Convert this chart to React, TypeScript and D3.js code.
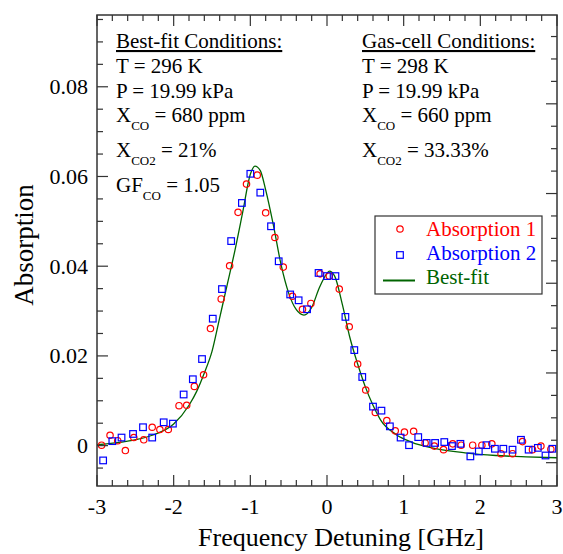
import React from "react";
import * as d3 from "d3";

// ---- data ----
const abs1X = [-2.94,-2.83,-2.73,-2.63,-2.52,-2.39,-2.28,-2.18,-2.07,-1.93,-1.83,-1.73,-1.61,-1.52,-1.38,-1.27,-1.16,-1.05,-0.91,-0.80,-0.68,-0.57,-0.45,-0.32,-0.21,-0.09,0.03,0.16,0.29,0.40,0.505,0.63,0.78,0.89,1.01,1.13,1.28,1.40,1.52,1.64,1.75,1.90,2.02,2.15,2.27,2.42,2.55,2.68,2.79,2.92];
const abs1Y = [0.0001,0.0023,0.0011,-0.0011,0.0018,0.0013,0.0041,0.0036,0.0036,0.0089,0.0090,0.0132,0.0158,0.0261,0.0327,0.0401,0.0520,0.0583,0.0603,0.0519,0.0464,0.0398,0.0333,0.0304,0.0317,0.0383,0.0378,0.0349,0.0265,0.0182,0.0124,0.0074,0.0056,0.0033,0.0030,0.0032,0.0006,-0.0001,-0.0009,0.0004,0.0001,0.0001,0.0001,0.0004,-0.0018,-0.0018,0.0009,-0.0009,-0.0001,-0.0008];

const abs2X = [-2.92,-2.80,-2.68,-2.53,-2.40,-2.28,-2.13,-2.01,-1.87,-1.75,-1.63,-1.49,-1.37,-1.25,-1.11,-1.00,-0.87,-0.73,-0.63,-0.48,-0.37,-0.26,-0.11,0.00,0.11,0.24,0.356,0.46,0.60,0.71,0.82,0.96,1.07,1.19,1.30,1.41,1.53,1.63,1.74,1.87,1.98,2.08,2.19,2.30,2.42,2.53,2.63,2.75,2.85,2.94];
const abs2Y = [-0.0033,0.0010,0.0018,0.0026,0.0041,0.0018,0.0052,0.0049,0.0114,0.0148,0.0193,0.0283,0.0349,0.0456,0.0541,0.0606,0.0564,0.0489,0.0411,0.0337,0.0324,0.0304,0.0385,0.0378,0.0378,0.0287,0.0213,0.0153,0.0087,0.0078,0.0043,0.0018,0.0001,0.0019,0.0006,0.0006,0.0008,-0.0001,0.0004,-0.0024,-0.0013,0.0001,-0.0007,-0.0007,-0.0009,0.0013,-0.0009,-0.0005,-0.0022,-0.0007];

const fitX = [-3,-2.6,-2.3,-2.0,-1.8,-1.7,-1.6,-1.5,-1.4,-1.3,-1.2,-1.1,-1.0,-0.94,-0.87,-0.8,-0.7,-0.6,-0.5,-0.4,-0.3,-0.2,-0.1,0.0,0.03,0.1,0.2,0.3,0.4,0.5,0.6,0.7,0.9,1.1,1.4,1.8,2.2,2.6,3.0];
const fitY = [0.0002,0.0010,0.0022,0.0048,0.0090,0.0121,0.0162,0.0210,0.0285,0.0360,0.0436,0.0520,0.0605,0.0623,0.0613,0.0570,0.0492,0.0404,0.0340,0.0303,0.0291,0.0308,0.0352,0.0384,0.0389,0.0378,0.0315,0.0240,0.0182,0.0131,0.0090,0.0057,0.0025,0.0008,-0.0006,-0.0016,-0.0022,-0.0025,-0.0027];

const xTickLabels = ["-3", "-2", "-1", "0", "1", "2", "3"];
const xMajor = [-3, -2, -1, 0, 1, 2, 3];
const yMajor = [0, 0.02, 0.04, 0.06, 0.08];
const yTickLabels = ["0", "0.02", "0.04", "0.06", "0.08"];
const rightMajor = [-0.0038, 0.0162, 0.0362, 0.0562, 0.0762];

const leftLines = ["T = 296 K", "P = 19.99 kPa"];
const rightLines = ["T = 298 K", "P = 19.99 kPa"];

const FONT = "'Liberation Serif', 'Times New Roman', Times, serif";
const RED = "#ff0000";
const BLUE = "#0000ff";
const GREEN = "#006400";
const FRAME = "#333333";

export default function App() {
  const W = 563, H = 554;
  const L = 97, R = 557, T = 15, B = 486;
  const x = d3.scaleLinear().domain([-3, 3]).range([L, R]);
  const y = d3.scaleLinear().domain([-0.009, 0.096]).range([B, T]);

  const xMinor = d3.range(-3, 3.0001, 0.2).filter((v) => Math.abs(v - Math.round(v)) > 1e-6);
  const yMinor = d3.range(-0.005, 0.0951, 0.005).filter((v) => !yMajor.some((m) => Math.abs(m - v) < 1e-6));
  const rMinor = d3.range(-1, 20).map((k) => rightMajor[0] + 0.005 * k)
    .filter((v) => v > -0.0085 && v < 0.0955 && !rightMajor.some((m) => Math.abs(m - v) < 1e-6));

  const fitData = fitX.map((v, i) => [v, fitY[i]] as [number, number]);
  const line = d3.line<[number, number]>().x((d) => x(d[0])).y((d) => y(d[1])).curve(d3.curveMonotoneX);

  const MAJ = 11, MIN = 6;

  const sub = (main: string, s: string, rest: string, xx: number, yy: number) => (
    <text x={xx} y={yy} fontSize={21} fontFamily={FONT} fill="#000">
      <tspan>{main}</tspan>
      <tspan dy={8} fontSize={13}>{s}</tspan>
      <tspan dy={-8}>{rest}</tspan>
    </text>
  );

  return (
    <svg width={W} height={H} style={{ position: "absolute", left: 0, top: 0, background: "#fff" }}>
      <rect x={0} y={0} width={W} height={H} fill="#fff" />
      {/* fit curve */}
      <path d={line(fitData) || ""} fill="none" stroke={GREEN} strokeWidth={1.3} />
      {/* absorption 1 */}
      {abs1X.map((v, i) => (
        <circle key={"a" + i} cx={x(v)} cy={y(abs1Y[i])} r={3.2} fill="none" stroke={RED} strokeWidth={1.2} />
      ))}
      {abs2X.map((v, i) => (
        <rect key={"b" + i} x={x(v) - 3.3} y={y(abs2Y[i]) - 3.3} width={6.6} height={6.6} fill="none" stroke={BLUE} strokeWidth={1.2} />
      ))}

      {/* frame */}
      <rect x={L} y={T} width={R - L} height={B - T} fill="none" stroke={FRAME} strokeWidth={1.5} />
      {/* bottom + top ticks */}
      {xMajor.map((v) => (
        <g key={"xm" + v}>
          <line x1={x(v)} x2={x(v)} y1={B} y2={B - MAJ} stroke={FRAME} strokeWidth={1.2} />
          <line x1={x(v)} x2={x(v)} y1={T} y2={T + MAJ} stroke={FRAME} strokeWidth={1.2} />
        </g>
      ))}
      {xMinor.map((v, i) => (
        <g key={"xn" + i}>
          <line x1={x(v)} x2={x(v)} y1={B} y2={B - MIN} stroke={FRAME} strokeWidth={1.2} />
          <line x1={x(v)} x2={x(v)} y1={T} y2={T + MIN} stroke={FRAME} strokeWidth={1.2} />
        </g>
      ))}
      {/* left ticks */}
      {yMajor.map((v) => (
        <line key={"ym" + v} x1={L} x2={L + MAJ} y1={y(v)} y2={y(v)} stroke={FRAME} strokeWidth={1.2} />
      ))}
      {yMinor.map((v, i) => (
        <line key={"yn" + i} x1={L} x2={L + MIN} y1={y(v)} y2={y(v)} stroke={FRAME} strokeWidth={1.2} />
      ))}
      {/* right ticks */}
      {rightMajor.map((v) => (
        <line key={"rm" + v} x1={R} x2={R - MAJ} y1={y(v)} y2={y(v)} stroke={FRAME} strokeWidth={1.2} />
      ))}
      {rMinor.map((v, i) => (
        <line key={"rn" + i} x1={R} x2={R - MIN} y1={y(v)} y2={y(v)} stroke={FRAME} strokeWidth={1.2} />
      ))}

      {/* tick labels */}
      {xMajor.map((v, i) => (
        <text key={"xl" + v} x={x(v)} y={514} textAnchor="middle" fontSize={22} fontFamily={FONT}>{xTickLabels[i]}</text>
      ))}
      {yMajor.map((v, i) => (
        <text key={"yl" + v} x={88} y={y(v) + 7.5} textAnchor="end" fontSize={22} fontFamily={FONT}>{yTickLabels[i]}</text>
      ))}

      {/* axis titles */}
      <text x={341} y={546} textAnchor="middle" fontSize={26} fontFamily={FONT}>Frequency Detuning [GHz]</text>
      <text transform={`translate(33,245) rotate(-90)`} textAnchor="middle" fontSize={27} fontFamily={FONT}>Absorption</text>

      {/* annotations left */}
      <text x={116} y={48} fontSize={21} fontFamily={FONT} textDecoration="underline">Best-fit Conditions:</text>
      {leftLines.map((s, i) => (
        <text key={"ll" + i} x={116} y={73 + i * 24.5} fontSize={21} fontFamily={FONT}>{s}</text>
      ))}
      {sub("X", "CO", " = 680 ppm", 116, 122)}
      {sub("X", "CO2", " = 21%", 116, 157)}
      {sub("GF", "CO", " = 1.05", 116, 192)}

      {/* annotations right */}
      <text x={362} y={48} fontSize={21} fontFamily={FONT} textDecoration="underline">Gas-cell Conditions:</text>
      {rightLines.map((s, i) => (
        <text key={"rl" + i} x={362} y={73 + i * 24.5} fontSize={21} fontFamily={FONT}>{s}</text>
      ))}
      {sub("X", "CO", " = 660 ppm", 362, 122)}
      {sub("X", "CO2", " = 33.33%", 362, 157)}

      {/* legend */}
      <rect x={375} y={216} width={167} height={78} fill="#fff" stroke={FRAME} strokeWidth={1.2} />
      <circle cx={400} cy={229} r={3.2} fill="none" stroke={RED} strokeWidth={1.2} />
      <text x={426} y={236} fontSize={21} fontFamily={FONT} fill={RED}>Absorption 1</text>
      <rect x={400 - 3.3} y={255 - 3.3} width={6.6} height={6.6} fill="none" stroke={BLUE} strokeWidth={1.2} />
      <text x={426} y={260} fontSize={21} fontFamily={FONT} fill={BLUE}>Absorption 2</text>
      <line x1={383} x2={415} y1={280.5} y2={280.5} stroke={GREEN} strokeWidth={2} />
      <text x={426} y={284} fontSize={21} fontFamily={FONT} fill={GREEN}>Best-fit</text>
    </svg>
  );
}
